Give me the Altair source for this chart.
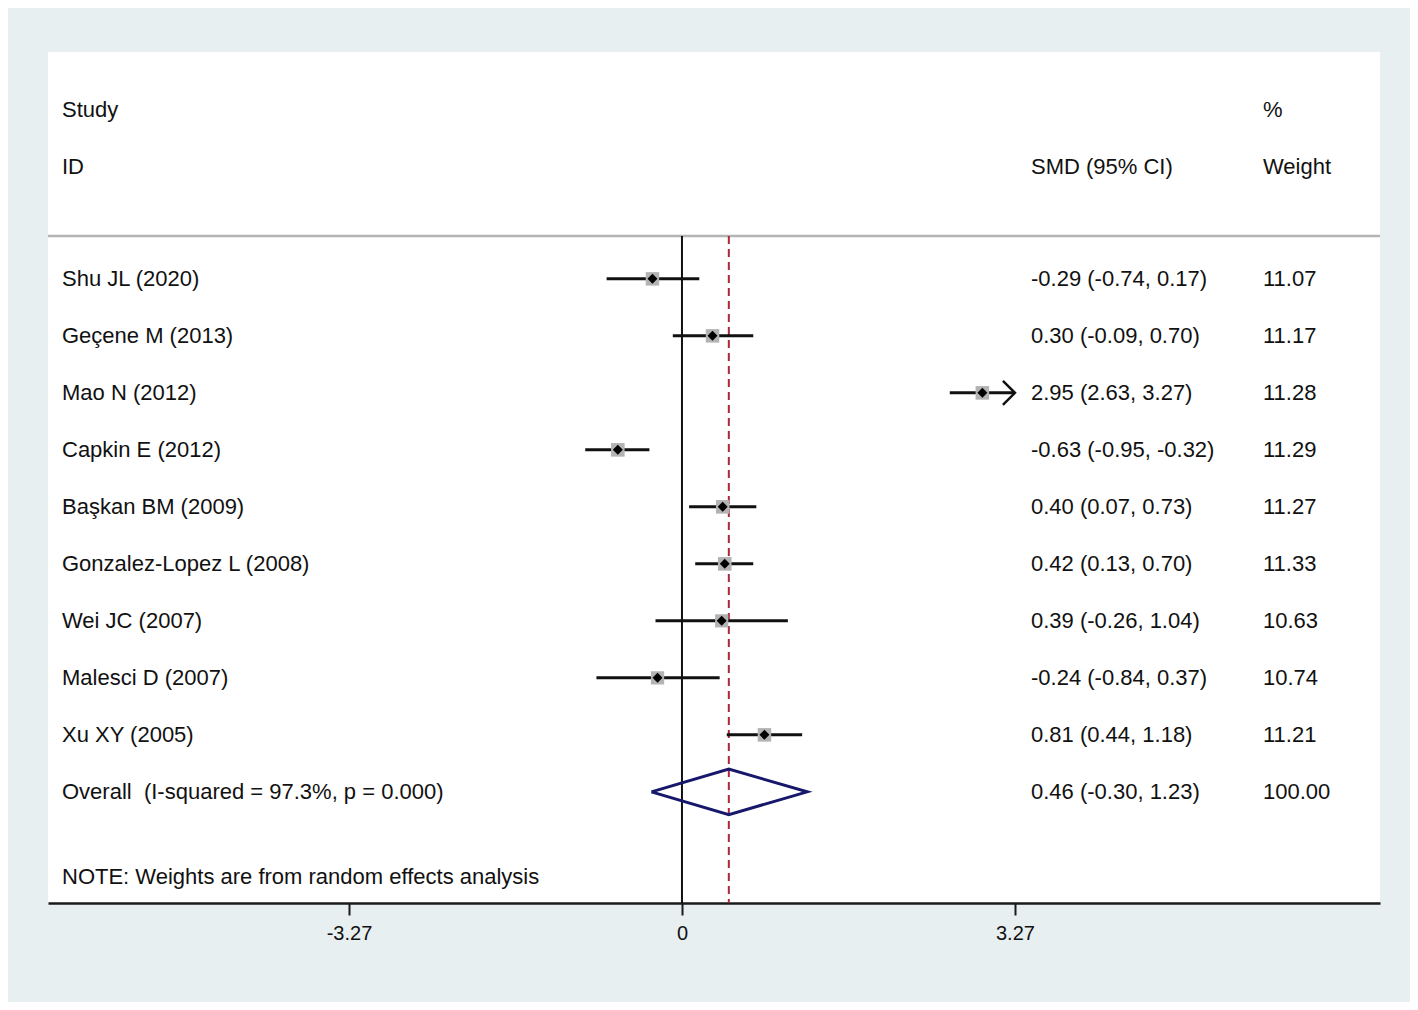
import altair as alt
import pandas as pd

# ---- data ----
studies = ["Shu JL (2020)", "Geçene M (2013)", "Mao N (2012)", "Capkin E (2012)",
           "Başkan BM (2009)", "Gonzalez-Lopez L (2008)", "Wei JC (2007)",
           "Malesci D (2007)", "Xu XY (2005)"]
smd = [-0.29, 0.30, 2.95, -0.63, 0.40, 0.42, 0.39, -0.24, 0.81]
lcl = [-0.74, -0.09, 2.63, -0.95, 0.07, 0.13, -0.26, -0.84, 0.44]
ucl = [0.17, 0.70, 3.27, -0.32, 0.73, 0.70, 1.04, 0.37, 1.18]
weights = [11.07, 11.17, 11.28, 11.29, 11.27, 11.33, 10.63, 10.74, 11.21]

overall_label = "Overall\u00a0 (I-squared = 97.3%, p = 0.000)"
overall_smd, overall_lcl, overall_ucl, overall_w = 0.46, -0.30, 1.23, 100.00
note = "NOTE: Weights are from random effects analysis"
tick_values = [-3.27, 0, 3.27]
x_limit = 3.27

FONT = "Liberation Sans"
FS = 22

# ---- layout rows ----
row_study_hdr, row_id_hdr, row_sep = -2.97, -1.97, -0.75
row_overall, row_note = 9.0, 10.49
y_dom = [-3.98, 10.95]
x_dom = [-6.226, 6.855]


def fmt(v):
    return f"{v:.2f}"


df = pd.DataFrame({
    "study": studies, "smd": smd, "lcl": lcl, "ucl": ucl, "w": weights,
    "row": list(range(len(studies))),
})
df["ci"] = [f"{fmt(a)} ({fmt(b)}, {fmt(c)})" for a, b, c in zip(smd, lcl, ucl)]
df["wt"] = [fmt(w) for w in weights]
df["ucl_plot"] = [min(u, x_limit) for u in ucl]

col1 = pd.DataFrame({"label": ["Study", "ID", overall_label, note],
                     "row": [row_study_hdr, row_id_hdr, row_overall, row_note]})
col2 = pd.DataFrame({"label": ["SMD (95% CI)",
                               f"{fmt(overall_smd)} ({fmt(overall_lcl)}, {fmt(overall_ucl)})"],
                     "row": [row_id_hdr, row_overall]})
col3 = pd.DataFrame({"label": ["%", "Weight", fmt(overall_w)],
                     "row": [row_study_hdr, row_id_hdr, row_overall]})

diamond = pd.DataFrame({
    "dx": [overall_lcl, overall_smd, overall_ucl, overall_smd, overall_lcl],
    "dy": [row_overall, row_overall - 0.4, row_overall, row_overall + 0.4, row_overall],
    "o": [0, 1, 2, 3, 4],
})

null_df = pd.DataFrame({"vx": [0.0], "vy": [row_sep], "vy2": [y_dom[1]]})
ov_df = pd.DataFrame({"vx": [overall_smd], "vy": [row_sep], "vy2": [y_dom[1]]})
sep = pd.DataFrame({"sx": [x_dom[0]], "sx2": [x_dom[1]], "sy": [row_sep]})

xs = alt.Scale(domain=x_dom, nice=False, zero=False)
ys = alt.Scale(domain=y_dom, nice=False, zero=False, reverse=True)

x_axis = alt.Axis(values=tick_values, title=None, grid=False,
                  labelExpr="datum.value < 0 ? '-' + format(-datum.value, '.2f') : (datum.value == 0 ? '0' : format(datum.value, '.2f'))",
                  domainColor="#1a1a1a", domainWidth=2.5, tickColor="#1a1a1a",
                  tickWidth=2, tickSize=12, labelFont=FONT, labelFontSize=20,
                  labelColor="#111111", labelPadding=8)


def X(field):
    return alt.X(field, scale=xs, axis=x_axis)


def Yf(field):
    return alt.Y(field, scale=ys, axis=None)


Y = Yf("row:Q")
base = alt.Chart(df)

ci = base.mark_rule(color="#111111", strokeWidth=3).encode(
    x=X("lcl:Q"), x2="ucl_plot:Q", y=Y)

squares = base.mark_point(shape="square", filled=True, color="#b3b3b3", opacity=1).encode(
    x=X("smd:Q"), y=Y,
    size=alt.Size("w:Q", scale=alt.Scale(domain=[0, 11.33], range=[0, 185]), legend=None))

dots = base.mark_point(shape="diamond", filled=True, color="#000000", opacity=1, size=100).encode(
    x=X("smd:Q"), y=Y)

arrows = alt.Chart(df[df["ucl"] >= x_limit]).mark_point(
    shape="M-1,-1L0,0L-1,1", filled=False, color="#111111", strokeWidth=2.5,
    size=580, opacity=1).encode(x=X("ucl_plot:Q"), y=Y)

sep_rule = alt.Chart(sep).mark_rule(color="#b4b4b4", strokeWidth=2.5).encode(
    x=X("sx:Q"), x2="sx2:Q", y=Yf("sy:Q"))

null_line = alt.Chart(null_df).mark_rule(color="#111111", strokeWidth=2).encode(
    x=X("vx:Q"), y=Yf("vy:Q"), y2="vy2:Q")
ov_line = alt.Chart(ov_df).mark_rule(
    color="#a8283c", strokeWidth=2, strokeDash=[8, 5]).encode(
    x=X("vx:Q"), y=Yf("vy:Q"), y2="vy2:Q")

diam = alt.Chart(diamond).mark_line(color="#17176b", strokeWidth=3).encode(
    x=X("dx:Q"), y=Yf("dy:Q"), order="o:Q")

tprops = dict(font=FONT, fontSize=FS, color="#111111", align="left", baseline="middle")
study_txt = base.mark_text(**tprops).encode(x=alt.value(14), y=Y, text="study:N")
ci_txt = base.mark_text(**tprops).encode(x=alt.value(983), y=Y, text="ci:N")
wt_txt = base.mark_text(**tprops).encode(x=alt.value(1215), y=Y, text="wt:N")

c1 = alt.Chart(col1).mark_text(**tprops).encode(x=alt.value(14), y=Y, text="label:N")
c2 = alt.Chart(col2).mark_text(**tprops).encode(x=alt.value(983), y=Y, text="label:N")
c3 = alt.Chart(col3).mark_text(**tprops).encode(x=alt.value(1215), y=Y, text="label:N")

chart = alt.layer(
    sep_rule, null_line, ov_line, ci, squares, dots, arrows, diam,
    study_txt, ci_txt, wt_txt, c1, c2, c3
).properties(
    width=1332, height=851,
    autosize=alt.AutoSizeParams(type="none"),
    padding={"left": 40, "top": 44, "right": 30, "bottom": 99},
    background="#e8eff1",
).configure_view(fill="#ffffff", strokeWidth=0)

chart.save("out.html", embed_options={"renderer": "svg", "actions": False})
